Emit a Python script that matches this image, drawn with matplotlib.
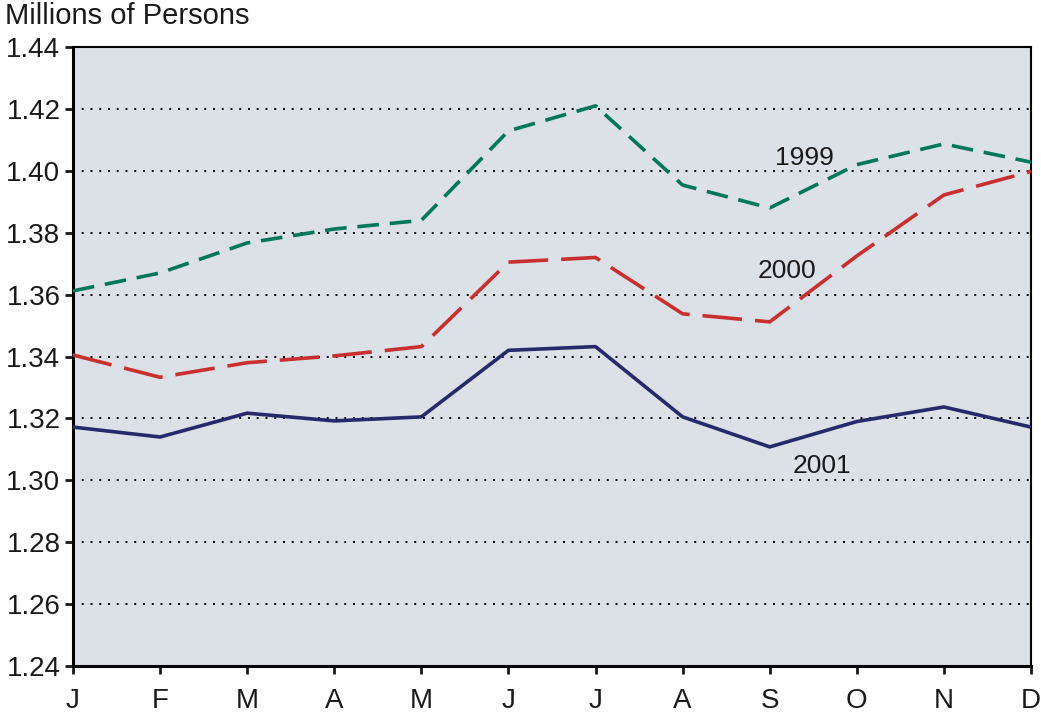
import numpy as np
import matplotlib
matplotlib.use("Agg")
import matplotlib.pyplot as plt

plt.rcParams['font.family'] = ['Liberation Sans', 'DejaVu Sans']

months = ["J", "F", "M", "A", "M", "J", "J", "A", "S", "O", "N", "D"]
y1999 = [1.3612, 1.3670, 1.3767, 1.3812, 1.3840, 1.4129, 1.4210, 1.3954, 1.3880, 1.4020, 1.4087, 1.4028]
y2000 = [1.3405, 1.3333, 1.3380, 1.3402, 1.3432, 1.3705, 1.3720, 1.3538, 1.3512, 1.3725, 1.3922, 1.3998]
y2001 = [1.3172, 1.3140, 1.3217, 1.3192, 1.3205, 1.3420, 1.3432, 1.3205, 1.3108, 1.3190, 1.3237, 1.3172]
yticks = [1.24, 1.26, 1.28, 1.30, 1.32, 1.34, 1.36, 1.38, 1.40, 1.42, 1.44]

fig = plt.figure(figsize=(10.41, 7.17), dpi=100)
ax = fig.add_axes([0.0701, 0.0711, 0.9203, 0.8633])
ax.set_facecolor("#dce0e7")

x = np.arange(len(months))
for v in yticks[1:-1]:
    ax.axhline(v, color="black", lw=1.4, ls=(0, (1, 3.5)), zorder=1)

ax.plot(x, y1999, color="#00775a", lw=2.6, dashes=(6, 3), zorder=3)
ax.plot(x, y2000, color="#c8302e", lw=2.6, dashes=(11, 3.6), zorder=3)
ax.plot(x, y2001, color="#262a6b", lw=2.6, zorder=3)

ax.text(8.40, 1.4040, "1999", fontsize=19, color="#1a1a1a", ha="center", va="center")
ax.text(8.20, 1.3675, "2000", fontsize=19, color="#1a1a1a", ha="center", va="center")
ax.text(8.60, 1.3046, "2001", fontsize=19, color="#1a1a1a", ha="center", va="center")

ax.set_xlim(0, 11)
ax.set_ylim(1.24, 1.44)
ax.set_xticks(x)
ax.set_xticklabels(months)
ax.set_yticks(yticks)
ax.set_yticklabels([f"{v:.2f}" for v in yticks])
ax.tick_params(axis="both", direction="out", length=6, width=2, labelsize=20, colors="#1a1a1a")
ax.tick_params(axis="x", pad=10)
ax.tick_params(axis="y", pad=3)
for s in ax.spines.values():
    s.set_linewidth(1.5)
ax.spines["left"].set_linewidth(2.2)
ax.spines["bottom"].set_linewidth(2.2)

fig.text(0.005, 0.978, "Millions of Persons", fontsize=21, color="#1a1a1a", ha="left", va="center")

fig.savefig("out.png", dpi=100)
